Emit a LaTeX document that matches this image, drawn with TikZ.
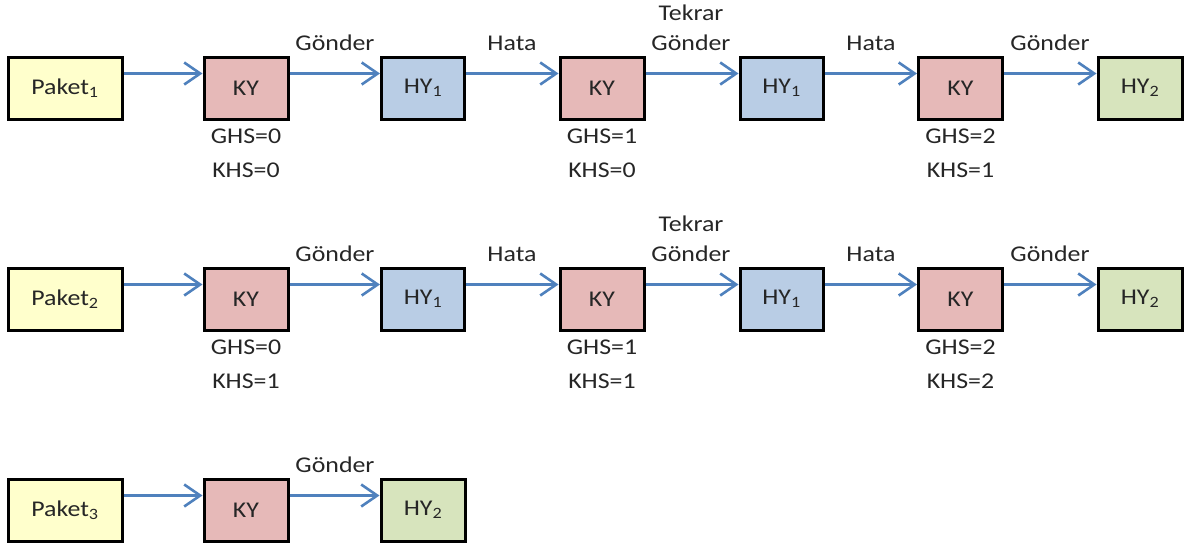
\documentclass[tikz,border=0pt]{standalone}
\usepackage{fontspec}
\setmainfont[FakeStretch=1.15]{Carlito}
\usetikzlibrary{arrows.meta}
\definecolor{arrowblue}{HTML}{4F81BD}
\definecolor{paketfill}{HTML}{FFFFCC}
\definecolor{kyfill}{HTML}{E6B9B8}
\definecolor{hyonefill}{HTML}{B9CDE5}
\definecolor{hytwofill}{HTML}{D7E4BD}
\definecolor{txt}{HTML}{262626}
\tikzset{
  box/.style={draw=black, line width=3pt, minimum height=62pt, inner sep=0pt,
              text=txt, font=\fontsize{22.5}{26}\selectfont},
  paket/.style={box, fill=paketfill, minimum width=114pt},
  ky/.style={box, fill=kyfill, minimum width=84pt},
  hyone/.style={box, fill=hyonefill, minimum width=83pt},
  hytwo/.style={box, fill=hytwofill, minimum width=84pt},
  lbl/.style={text=txt, font=\fontsize{22.5}{26}\selectfont, inner sep=0pt},
  arr/.style={draw=arrowblue, line width=2.6pt,
              -{Straight Barb[length=16pt,width=22pt,line width=2.6pt]}},
}
\newcommand{\link}[2]{\draw[arr] ([yshift=-18pt]#1.north east) -- ([yshift=-18pt]#2.north west);}
\begin{document}
\begin{tikzpicture}[x=1pt,y=-1pt]
\useasboundingbox (0,0) rectangle (1186,549);

% first packet
\node[paket] (p1) at (65,88) {Paket\textsubscript{1}};
\node[ky] (a1) at (246,88) {KY};
\node[hyone] (a2) at (423,88) {HY\textsubscript{1}};
\node[ky] (a3) at (602,88) {KY};
\node[hyone] (a4) at (781.5,88) {HY\textsubscript{1}};
\node[ky] (a5) at (960.5,88) {KY};
\node[hytwo] (a6) at (1140,88) {HY\textsubscript{2}};
\link{p1}{a1}\link{a1}{a2}\link{a2}{a3}\link{a3}{a4}\link{a4}{a5}\link{a5}{a6}
\node[lbl] (ga1) at (335,43) {Gönder};
\node[lbl] (ga2) at (512,43) {Hata};
\node[lbl] (ga3) at (691,13) {Tekrar};
\node[lbl] (ga4) at (691,43) {Gönder};
\node[lbl] (ga5) at (871,43) {Hata};
\node[lbl] (ga6) at (1050,43) {Gönder};
\node[lbl] (sa1) at (246,136) {GHS=0};
\node[lbl] (ka1) at (246,170) {KHS=0};
\node[lbl] (sa3) at (602,136) {GHS=1};
\node[lbl] (ka3) at (602,170) {KHS=0};
\node[lbl] (sa5) at (960.5,136) {GHS=2};
\node[lbl] (ka5) at (960.5,170) {KHS=1};

% second packet
\node[paket] (p2) at (65,299) {Paket\textsubscript{2}};
\node[ky] (b1) at (246,299) {KY};
\node[hyone] (b2) at (423,299) {HY\textsubscript{1}};
\node[ky] (b3) at (602,299) {KY};
\node[hyone] (b4) at (781.5,299) {HY\textsubscript{1}};
\node[ky] (b5) at (960.5,299) {KY};
\node[hytwo] (b6) at (1140,299) {HY\textsubscript{2}};
\link{p2}{b1}\link{b1}{b2}\link{b2}{b3}\link{b3}{b4}\link{b4}{b5}\link{b5}{b6}
\node[lbl] (gb1) at (335,254) {Gönder};
\node[lbl] (gb2) at (512,254) {Hata};
\node[lbl] (gb3) at (691,224) {Tekrar};
\node[lbl] (gb4) at (691,254) {Gönder};
\node[lbl] (gb5) at (871,254) {Hata};
\node[lbl] (gb6) at (1050,254) {Gönder};
\node[lbl] (sb1) at (246,347) {GHS=0};
\node[lbl] (kb1) at (246,381) {KHS=1};
\node[lbl] (sb3) at (602,347) {GHS=1};
\node[lbl] (kb3) at (602,381) {KHS=1};
\node[lbl] (sb5) at (960.5,347) {GHS=2};
\node[lbl] (kb5) at (960.5,381) {KHS=2};

% third packet
\node[paket] (p3) at (65,510) {Paket\textsubscript{3}};
\node[ky] (c1) at (246,510) {KY};
\node[hytwo] (c2) at (423,510) {HY\textsubscript{2}};
\link{p3}{c1}\link{c1}{c2}
\node[lbl] (gc1) at (335,465) {Gönder};
\end{tikzpicture}
\end{document}
